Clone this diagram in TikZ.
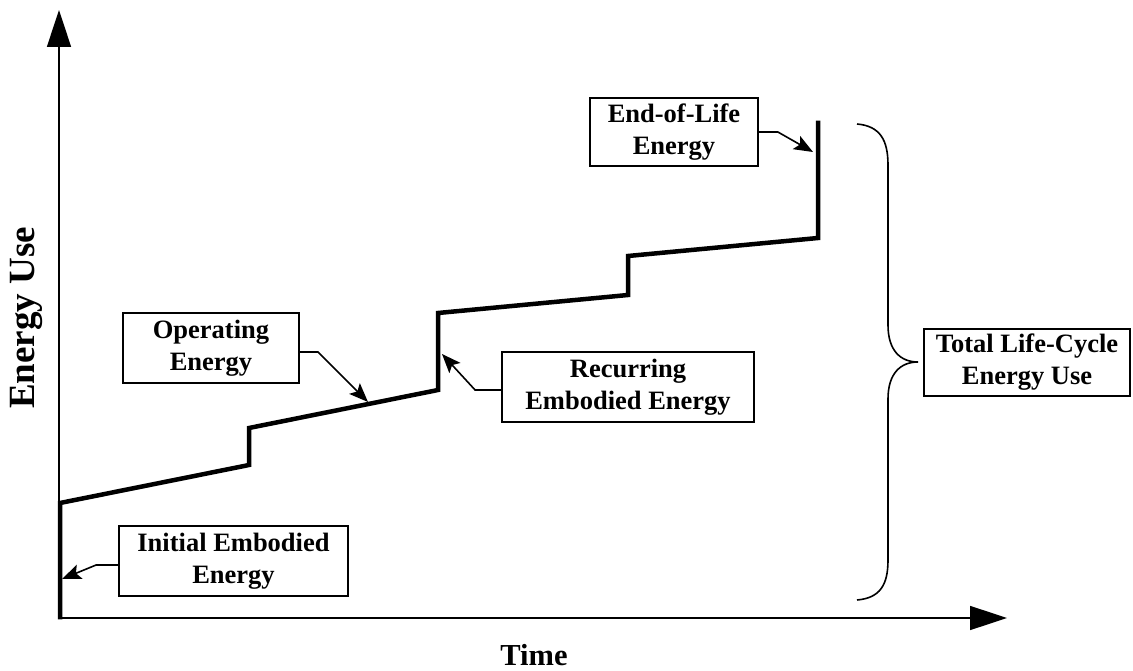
\documentclass[tikz,border=0pt]{standalone}
\usepackage{fontspec}
\setmainfont{Liberation Serif}
\usetikzlibrary{arrows.meta}
\begin{document}
\begin{tikzpicture}[x=1pt,y=-1pt,
  lbl/.style={draw,line width=1.8pt,inner sep=0pt,align=center,
    font=\fontsize{26.5}{32}\selectfont\bfseries},
  axis/.style={line width=1.6pt,-{Triangle[length=37pt,width=24pt]}},
  curve/.style={line width=4.5pt,line join=miter,line cap=rect},
  conn/.style={line width=1.6pt,-{Stealth[length=19pt,width=15pt,inset=4pt]}},
  txt/.style={font=\bfseries}]
\useasboundingbox (0,0) rectangle (1133,671);
% axes
\coordinate (o) at (59,618);
\coordinate (ytop) at (59,10);
\coordinate (xend) at (1007,618);
\draw[axis] (o) -- (ytop);
\draw[axis] (o) -- (xend);
% energy curve
\draw[curve] (60,617) -- (60,503) -- (249,465) -- (249,428) -- (438,390)
  -- (438,313) -- (628,295) -- (628,256) -- (818,238) -- (818,123);
% target points on the curve
\coordinate (t1) at (62,579);
\coordinate (t2) at (368,402);
\coordinate (t3) at (442,354);
\coordinate (t4) at (813,152);
% boxes
\node[lbl,minimum width=229pt,minimum height=70pt] (init) at (233.5,561) {Initial Embodied\\Energy};
\node[lbl,minimum width=176pt,minimum height=70pt] (oper) at (211,348) {Operating\\Energy};
\node[lbl,minimum width=252pt,minimum height=70pt] (recur) at (628,387) {Recurring\\Embodied Energy};
\node[lbl,minimum width=168pt,minimum height=68pt] (eol) at (674,132) {End-of-Life\\Energy};
\node[lbl,minimum width=206pt,minimum height=67pt] (total) at (1027,362.5) {Total Life-Cycle\\Energy Use};
% connectors
\draw[conn] ([yshift=-4pt]init.west) -- ++(-22,0) -- (t1);
\draw[conn] ([yshift=-4pt]oper.east) -- ++(18,0) -- (t2);
\draw[conn] ([yshift=-3pt]recur.west) -- ++(-26,0) -- (t3);
\draw[conn] (eol.east) -- ++(19,0) -- (t4);
% brace
\coordinate (btop) at (857,124);
\coordinate (bbot) at (857,600);
\coordinate (btip) at (918,362);
\draw[line width=1.6pt] (btop) .. controls (880,126) and (888,140) .. (888,165)
  -- (888,325) .. controls (888,350) and (900,362) .. (btip)
  .. controls (900,362) and (888,374) .. (888,399)
  -- (888,560) .. controls (888,585) and (880,598) .. (bbot);
% axis labels
\node[txt,font=\fontsize{37}{40}\selectfont\bfseries,rotate=90] (ylab) at (26,318) {Energy Use};
\node[txt,font=\fontsize{30.5}{34}\selectfont\bfseries] (xlab) at (534,655) {Time};
\end{tikzpicture}
\end{document}
